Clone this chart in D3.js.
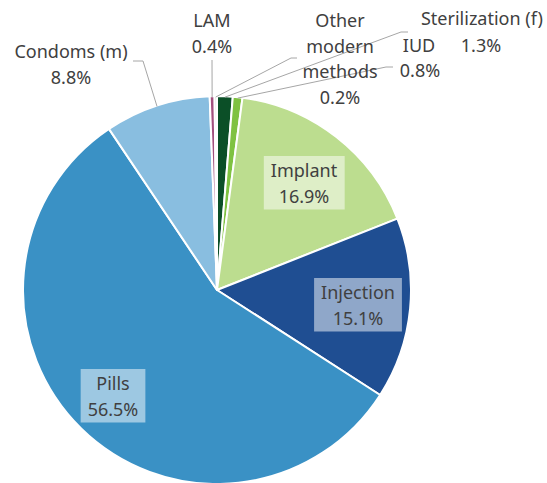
<!DOCTYPE html>
<html>
<head>
<meta charset="utf-8">
<script src="https://cdn.jsdelivr.net/npm/d3@7"></script>
<style>
  body { margin: 0; background: #fff; }
  svg text { font-family: "Noto Sans", "Open Sans", sans-serif; fill: #404040; }
</style>
</head>
<body>
<div id="chart"></div>
<script>
// data, clockwise from 12 o'clock
const categories = ["Sterilization (f)", "IUD", "Implant", "Injection", "Pills", "Condoms (m)", "LAM", "Other modern methods"];
const shares = [1.3, 0.8, 16.9, 15.1, 56.5, 8.8, 0.4, 0.2];
const colors = ["#0b4f27", "#7fc241", "#bcdd8f", "#1f4e92", "#3a91c5", "#89bee0", "#a2507e", "#d9d9d9"];
// how each label's name is broken into lines
const nameLines = [["Sterilization (f)"], ["IUD"], ["Implant"], ["Injection"], ["Pills"], ["Condoms (m)"], ["LAM"], ["Other", "modern", "methods"]];

const WIDTH = 547, HEIGHT = 483;
const CX = 217, CY = 290, R = 194;
const LINE_H = 25.5;

// label placement: inside labels get a box, outside ones a leader line
// pct: where the percentage goes when it is not simply the next line
const labelLayout = [
	{ x: 482, y: 25, inside: false, lead: [[408, 32], [401, 32]], pct: [481, 52] },
	{ x: 419, y: 52, inside: false, lead: [[393, 67], [386, 67]], pct: [420, 77] },
	{ x: 304, y: 177, inside: true },
	{ x: 358, y: 299, inside: true },
	{ x: 113, y: 390, inside: true },
	{ x: 71, y: 58, inside: false, lead: [[133, 61], [143, 61]] },
	{ x: 212, y: 27, inside: false, lead: [[212, 60]] },
	{ x: 340, y: 27, inside: false, lead: [[297, 58], [291, 58]] },
];

const fmt = (v) => d3.format(".1f")(v) + "%";

const svg = d3.select("#chart").append("svg")
	.attr("width", WIDTH)
	.attr("height", HEIGHT);

const g = svg.append("g").attr("transform", `translate(${CX},${CY})`);

const pie = d3.pie().sort(null).value((d) => d).startAngle(0).endAngle(2 * Math.PI);
const arcs = pie(shares);
const arc = d3.arc().innerRadius(0).outerRadius(R);
const rimArc = d3.arc().innerRadius(R).outerRadius(R);

g.selectAll("path")
	.data(arcs)
	.enter()
	.append("path")
	.attr("d", arc)
	.attr("fill", (d, i) => colors[i])
	.attr("stroke", "#fff")
	.attr("stroke-width", 2)
	.attr("stroke-linejoin", "round");

// leader lines, ending on the rim at each slice's middle
const lead = svg.append("g");
arcs.forEach((d, i) => {
	const L = labelLayout[i];
	if (L.inside) return;
	const [px, py] = rimArc.centroid(d);
	const pts = L.lead.concat([[CX + px, CY + py + 1]]);
	lead.append("path")
		.attr("d", d3.line()(pts))
		.attr("fill", "none")
		.attr("stroke", "#a6a6a6")
		.attr("stroke-width", 1);
});

// labels
const labels = svg.append("g").style("font-size", "18px");
arcs.forEach((d, i) => {
	const L = labelLayout[i];
	const lg = labels.append("g");
	const texts = nameLines[i].map((t, k) =>
		lg.append("text")
			.attr("x", L.x)
			.attr("y", L.y + k * LINE_H)
			.attr("text-anchor", "middle")
			.text(t)
	);
	const pctXY = L.pct || [L.x, L.y + nameLines[i].length * LINE_H];
	texts.push(
		lg.append("text")
			.attr("x", pctXY[0])
			.attr("y", pctXY[1])
			.attr("text-anchor", "middle")
			.text(fmt(shares[i]))
	);
	if (L.inside) {
		let x0 = Infinity, x1 = -Infinity, y0 = Infinity, y1 = -Infinity;
		texts.forEach((t) => {
			const b = t.node().getBBox();
			x0 = Math.min(x0, b.x); x1 = Math.max(x1, b.x + b.width);
			y0 = Math.min(y0, b.y); y1 = Math.max(y1, b.y + b.height);
		});
		lg.insert("rect", "text")
			.attr("x", x0 - 7)
			.attr("y", y0 - 2)
			.attr("width", x1 - x0 + 14)
			.attr("height", y1 - y0 + 4)
			.attr("fill", "#fff")
			.attr("fill-opacity", 0.5);
	}
});
</script>
</body>
</html>
